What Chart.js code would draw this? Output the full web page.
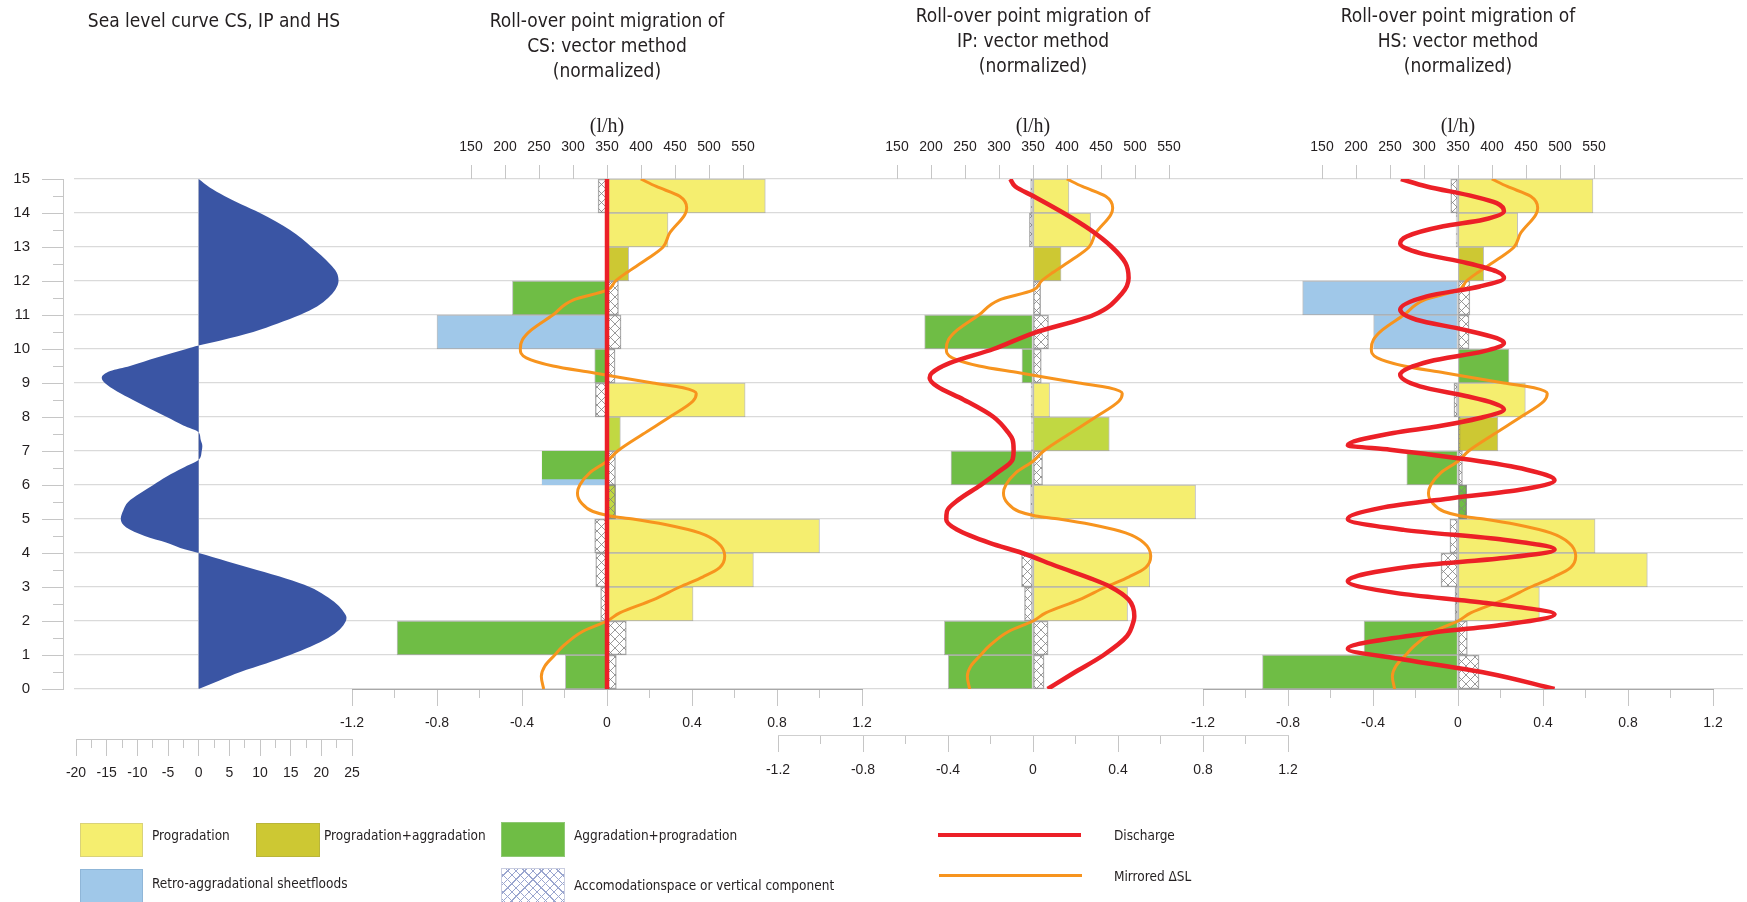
<!DOCTYPE html>
<html lang="en">
<head>
<meta charset="utf-8">
<title>Roll-over point migration: vector method</title>
<script src="https://cdn.jsdelivr.net/npm/chart.js@4.4.1/dist/chart.umd.min.js"></script>
<style>
  html, body { margin: 0; padding: 0; background: #ffffff; }
  #figure { position: relative; width: 1747px; height: 902px; overflow: hidden; background: #ffffff; }
  #figure canvas { position: absolute; top: 0; }
  .key-text { position: absolute; font-family: 'Liberation Sans Narrow', 'Arial Narrow', 'DejaVu Sans Condensed', 'Liberation Sans', sans-serif;
              font-size: 13.5px; color: #231f20; white-space: nowrap; line-height: 1; transform: translateY(-50%); }
  .key-box { position: absolute; box-sizing: border-box; }
</style>
</head>
<body>
<div id="figure">
  <canvas id="gridCanvas" width="1673" height="902" style="left:74px"></canvas>
  <canvas id="axisCanvas" width="70" height="902" style="left:0px"></canvas>
  <canvas id="seaCanvas" width="372" height="902" style="left:0px"></canvas>
  <canvas id="csCanvas" width="620" height="902" style="left:300px"></canvas>
  <canvas id="ipCanvas" width="620" height="902" style="left:726px"></canvas>
  <canvas id="hsCanvas" width="596" height="902" style="left:1151px"></canvas>

  <div class="key-box" style="left:80px;top:823px;width:63px;height:34px;background:#f5ee6f;border:1px solid #d9d27a"></div>
  <div class="key-text" style="left:152px;top:836px">Progradation</div>
  <div class="key-box" style="left:256px;top:823px;width:64px;height:34px;background:#cdc833;border:1px solid #b9b53a"></div>
  <div class="key-text" style="left:324px;top:836px">Progradation+aggradation</div>
  <div class="key-box" style="left:501px;top:822px;width:64px;height:35px;background:#6fbd45;border:1px solid #8fc874"></div>
  <div class="key-text" style="left:574px;top:836px">Aggradation+progradation</div>
  <div class="key-box" style="left:938px;top:833px;width:143px;height:4px;background:#ec2027"></div>
  <div class="key-text" style="left:1114px;top:836px">Discharge</div>

  <div class="key-box" style="left:80px;top:869px;width:63px;height:40px;background:#a0c8e9;border:1px solid #8fb6d8"></div>
  <div class="key-text" style="left:152px;top:884px">Retro-aggradational sheetfloods</div>
  <div class="key-box" style="left:501px;top:868px;width:64px;height:40px;border:1px solid #c9cde0;
       background:repeating-linear-gradient(45deg, rgba(0,0,0,0) 0 5px, #9aa6cf 5px 6px), repeating-linear-gradient(-45deg, rgba(0,0,0,0) 0 5px, #9aa6cf 5px 6px)"></div>
  <div class="key-text" style="left:574px;top:886px">Accomodationspace or vertical component</div>
  <div class="key-box" style="left:939px;top:874px;width:143px;height:3px;background:#f7941e"></div>
  <div class="key-text" style="left:1114px;top:877px">Mirrored ΔSL</div>
</div>

<script>
// ---------- data ----------
// Stratigraphic intervals along the vertical axis, bottom to top
const rows = ['0–1', '1–2', '2–3', '3–4', '4–5', '5–6', '6–7', '7–8', '8–9', '9–10', '10–11', '11–12', '12–13', '13–14', '14–15'];

// Tick values
const levelTicks = [0, 1, 2, 3, 4, 5, 6, 7, 8, 9, 10, 11, 12, 13, 14, 15];
const levelMinorTicks = [0, 0.5, 1, 1.5, 2, 2.5, 3, 3.5, 4, 4.5, 5, 5.5, 6, 6.5, 7, 7.5, 8, 8.5, 9, 9.5, 10, 10.5, 11, 11.5, 12, 12.5, 13, 13.5, 14, 14.5, 15];
const seaTicks = [-20, -15, -10, -5, 0, 5, 10, 15, 20, 25];
const seaMinorTicks = [-20, -17.5, -15, -12.5, -10, -7.5, -5, -2.5, 0, 2.5, 5, 7.5, 10, 12.5, 15, 17.5, 20, 22.5, 25];
const normTicks = [-1.2, -0.8, -0.4, 0, 0.4, 0.8, 1.2];
const normMinorTicks = [-1.2, -1.0, -0.8, -0.6, -0.4, -0.2, 0, 0.2, 0.4, 0.6, 0.8, 1.0, 1.2];
const dischargeTicks = [150, 200, 250, 300, 350, 400, 450, 500, 550];
// Discharge (l/h) spanned by a panel's width: 350 l/h sits on the normalized zero
const dischargeSpan = [-25, 725];

// Sea level curve shared by CS, IP and HS
const seaTime = [0, 0.25, 0.5, 0.75, 1, 1.25, 1.5, 1.75, 2, 2.1, 2.25, 2.5, 2.75, 3, 3.25, 3.5, 3.75, 4, 4.15, 4.3, 4.5, 4.75, 5, 5.25, 5.5, 5.75, 6, 6.25, 6.5, 6.74, 7, 7.15, 7.35, 7.55, 7.75, 8, 8.25, 8.5, 8.75, 9, 9.15, 9.35, 9.5, 9.75, 10, 10.1, 10.25, 10.5, 10.75, 11, 11.25, 11.5, 11.75, 12, 12.25, 12.5, 12.75, 13, 13.25, 13.5, 13.75, 14, 14.25, 14.5, 14.75, 15];
const seaLevel = [0, 3.4, 6.8, 11.0, 14.9, 18.3, 21.1, 23.0, 24.0, 24.1, 23.7, 22.5, 20.6, 18.1, 14.2, 9.5, 4.7, 0, -3.0, -5.2, -8.8, -11.8, -12.7, -12.3, -11.5, -9.6, -7.4, -5.2, -2.6, 0, 0.5, 0.6, 0.3, 0, -2.5, -5.2, -8.0, -10.7, -13.3, -15.3, -15.8, -14.4, -11.2, -6.8, -2.0, 0, 3.6, 8.9, 12.9, 16.5, 19.3, 21.1, 22.3, 22.8, 22.5, 21.4, 20.0, 18.4, 16.8, 14.9, 12.6, 10.0, 7.0, 4.2, 1.8, 0];

// Mirrored ΔSL (normalized), identical in the three panels
const mirroredTime = [0, 0.37, 0.67, 1, 1.26, 1.7, 2, 2.24, 2.62, 3, 3.3, 3.57, 3.91, 4.3, 4.59, 4.83, 5, 5.09, 5.22, 5.47, 5.76, 6, 6.36, 6.7, 7, 7.5, 8, 8.47, 8.69, 8.86, 9, 9.2, 9.3, 9.5, 9.74, 10, 10.27, 10.56, 11, 11.44, 11.73, 12, 12.24, 12.63, 13, 13.41, 13.95, 14.15, 14.49, 14.78, 15];
const mirroredSL = [-0.298, -0.309, -0.293, -0.246, -0.207, -0.113, 0, 0.06, 0.216, 0.342, 0.452, 0.53, 0.554, 0.522, 0.436, 0.28, 0.122, 0.013, -0.066, -0.12, -0.139, -0.128, -0.081, 0, 0.05, 0.17, 0.295, 0.405, 0.42, 0.358, 0.216, 0.028, -0.066, -0.254, -0.38, -0.408, -0.398, -0.356, -0.255, -0.16, 0, 0.04, 0.091, 0.185, 0.264, 0.295, 0.366, 0.375, 0.342, 0.232, 0.159];

// CS: vector components per interval (normalized)
const csProgradation   = [null, null, 0.405, 0.689, 1.0, null, null, null, 0.65, null, null, null, null, 0.287, 0.745];
const csProgAggr       = [null, null, null, null, null, null, null, null, null, null, null, null, 0.102, null, null];
const csProgAggrLight  = [null, null, null, null, null, 0.041, null, 0.063, null, null, null, null, null, null, null];
const csAggrProg       = [-0.196, -0.988, null, null, null, null, -0.306, null, null, -0.058, null, -0.445, null, null, null];
const csRetro          = [null, null, null, null, null, null, -0.306, null, null, null, -0.80, null, null, null, null];
const csAccommodation  = [0.044, 0.091, -0.03, -0.053, -0.058, 0.04, 0.04, null, -0.055, 0.038, 0.066, 0.054, null, null, -0.042];
const csDischargeTime  = [0, 15];
const csDischarge      = [350, 350];

// IP
const ipProgradation   = [null, null, 0.445, 0.549, null, 0.765, null, null, 0.078, null, null, null, null, 0.271, 0.169];
const ipProgAggr       = [null, null, null, null, null, null, null, null, null, null, null, null, 0.132, null, null];
const ipProgAggrLight  = [null, null, null, null, null, null, null, 0.359, null, null, null, null, null, null, null];
const ipAggrProg       = [-0.399, -0.417, null, null, null, null, -0.386, null, null, -0.052, -0.51, null, null, null, null];
const ipRetro          = [null, null, null, null, null, null, null, null, null, null, null, null, null, null, null];
const ipAccommodation  = [0.052, 0.071, -0.04, -0.054, null, -0.011, 0.045, -0.007, -0.009, 0.039, 0.073, 0.036, null, -0.017, -0.011];
const ipDischargeTime  = [0, 0.47, 1, 1.55, 2, 2.14, 2.63, 3.01, 3.22, 3.61, 4, 4.29, 4.69, 4.98, 5.23, 5.57, 5.99, 6.35, 6.75, 7.04, 7.33, 7.53, 8, 8.51, 8.9, 9.15, 9.29, 9.59, 10, 10.47, 11, 11.64, 12.09, 12.53, 13, 13.51, 14, 14.49, 14.78, 15];
const ipDischarge      = [371.5, 409.7, 454, 488, 498, 499, 490.6, 463.7, 439, 385, 334, 287, 238, 222.5, 223.5, 240.6, 272.5, 297, 320, 321.5, 320, 314, 292, 248, 209, 198, 201, 228, 292, 351, 439, 481, 490.6, 486, 466, 434, 395, 351, 324, 316.6];

// HS
const hsProgradation   = [null, null, 0.383, 0.891, 0.645, null, null, null, 0.317, null, null, null, null, 0.281, 0.635];
const hsProgAggr       = [null, null, null, null, null, null, null, 0.188, null, null, null, null, 0.121, null, null];
const hsProgAggrLight  = [null, null, null, null, null, null, null, null, null, null, null, null, null, null, null];
const hsAggrProg       = [-0.92, -0.442, null, null, null, 0.041, -0.241, null, null, 0.24, null, null, null, null, null];
const hsRetro          = [null, null, null, null, null, null, null, null, null, null, -0.397, -0.731, null, null, null];
const hsAccommodation  = [0.099, 0.044, -0.014, -0.08, -0.038, 0.041, 0.021, 0.01, -0.019, null, 0.052, 0.056, null, -0.009, -0.034];
const hsDischargeTime  = [0, 0.47, 0.87, 1.18, 1.65, 1.89, 2.19, 2.53, 2.82, 3.17, 3.61, 3.85, 4.1, 4.39, 4.68, 5, 5.32, 5.62, 5.86, 6.14, 6.45, 6.74, 7.04, 7.17, 7.53, 7.72, 7.97, 8.23, 8.41, 8.61, 8.9, 9.24, 9.64, 9.93, 10.18, 10.32, 10.57, 10.86, 11.16, 11.55, 11.84, 12.09, 12.28, 12.53, 12.82, 13.1, 13.31, 13.61, 13.8, 14.05, 14.29, 14.49, 14.78, 15];
const hsDischarge      = [492, 392, 270, 188, 310, 417, 492, 392, 260, 188, 284, 417, 492, 417, 270, 188, 235, 343, 441, 492, 451, 368, 250, 188, 255, 319, 382, 417.6, 402, 363, 294, 265, 309, 387, 417.6, 407, 358, 289, 265, 304, 382, 417.6, 407, 363, 294, 265, 274.5, 328.5, 387, 417.6, 407, 372.6, 304, 266];

// ---------- styling ----------
const NARROW = "'Liberation Sans Narrow', 'Arial Narrow', 'DejaVu Sans Condensed', 'Liberation Sans', sans-serif";
const SANS = "'Liberation Sans', Arial, Helvetica, sans-serif";
const SERIF = "'Liberation Serif', 'Times New Roman', serif";
const COLORS = {
  progradation: '#f5ee6f', progAggr: '#cdc833', progAggrLight: '#c1d842', aggrProg: '#6fbd45',
  retro: '#a0c8e9', discharge: '#ec2027', mirrored: '#f7941e', sea: '#3a55a4',
  grid: '#dadada', tick: '#c6c6c6', text: '#231f20', edge: 'rgba(100,100,100,0.4)'
};

Chart.defaults.font.family = SANS;
Chart.defaults.color = COLORS.text;
Chart.defaults.animation = false;
Chart.defaults.responsive = false;
Chart.defaults.maintainAspectRatio = false;
Chart.defaults.devicePixelRatio = 1;
Chart.defaults.events = [];
Chart.defaults.plugins.legend.display = false;
Chart.defaults.plugins.tooltip.enabled = false;

const setTicks = values => scale => { scale.ticks = values.map(value => ({value})); };
const setHeight = h => scale => { scale.height = h; };
const setWidth = w => scale => { scale.width = w; };
const asPoints = (time, value) => time.map((t, i) => ({x: value[i], y: t}));

// Cross-hatch fill for the accommodation (vertical) component
function crossHatch() {
  const s = 9;
  const tile = document.createElement('canvas');
  tile.width = s; tile.height = s;
  const g = tile.getContext('2d');
  g.strokeStyle = '#808080';
  g.lineWidth = 0.8;
  g.beginPath();
  g.moveTo(0, 0); g.lineTo(s, s);
  g.moveTo(s, 0); g.lineTo(0, s);
  g.stroke();
  return g.createPattern(tile, 'repeat');
}
const hatch = crossHatch();

// Title block of fixed height: first line centred at top + 12.5
const TITLE_LINE = 25;
const panelTitle = (lines, top, blockHeight) => ({
  display: true, text: lines, fullSize: false, color: COLORS.text,
  font: {family: NARROW, size: 19, weight: 'normal', lineHeight: TITLE_LINE / 19},
  padding: {top: top, bottom: blockHeight - TITLE_LINE * lines.length - top}
});

// Two stacked bottom axes give short minor and long major tick marks
function bottomAxes(min, max, major, minor, labelPad, borderColor, formatter) {
  return {
    xm: {
      type: 'linear', axis: 'x', position: 'bottom', weight: 1, bounds: 'data', offset: false, min, max,
      afterBuildTicks: setTicks(minor), afterFit: setHeight(9),
      ticks: {display: false},
      grid: {drawOnChartArea: false, tickLength: 9, color: COLORS.tick},
      border: {display: true, color: borderColor, width: 1}
    },
    x: {
      type: 'linear', axis: 'x', position: 'bottom', weight: 2, bounds: 'data', offset: false, min, max,
      afterBuildTicks: setTicks(major), afterFit: setHeight(40),
      ticks: {font: {size: 14}, padding: labelPad, color: COLORS.text, autoSkip: false, maxRotation: 0, callback: formatter},
      grid: {
        drawOnChartArea: true, tickLength: 8, tickColor: COLORS.tick,
        color: ctx => (ctx.tick && ctx.tick.value === 0 ? COLORS.grid : 'rgba(0,0,0,0)')
      },
      border: {display: false}
    }
  };
}

// ---------- horizontal grid lines ----------
new Chart(document.getElementById('gridCanvas'), {
  type: 'line',
  data: {datasets: []},
  options: {
    layout: {padding: {top: 179, bottom: 213, left: 0, right: 4}},
    scales: {
      x: {type: 'linear', display: false, min: 0, max: 1},
      y: {
        type: 'linear', bounds: 'data', min: 0, max: 15,
        afterBuildTicks: setTicks(levelTicks), afterFit: setWidth(0),
        ticks: {display: false},
        grid: {color: COLORS.grid, lineWidth: 1.2, drawTicks: false},
        border: {display: false}
      }
    }
  }
});

// ---------- shared vertical axis ----------
new Chart(document.getElementById('axisCanvas'), {
  type: 'line',
  data: {datasets: []},
  options: {
    layout: {padding: {top: 179, bottom: 213, left: 0, right: 0}},
    scales: {
      x: {type: 'linear', display: false, min: 0, max: 1},
      yMinor: {
        type: 'linear', axis: 'y', position: 'left', weight: 0, bounds: 'data', min: 0, max: 15,
        afterBuildTicks: setTicks(levelMinorTicks), afterFit: setWidth(10),
        ticks: {display: false},
        grid: {drawOnChartArea: false, tickLength: 10, color: COLORS.tick},
        border: {display: true, color: COLORS.tick}
      },
      y: {
        type: 'linear', position: 'left', weight: 1, bounds: 'data', min: 0, max: 15,
        afterBuildTicks: setTicks(levelTicks), afterFit: setWidth(53),
        ticks: {font: {size: 15}, padding: 12, color: COLORS.text},
        grid: {drawOnChartArea: false, tickLength: 11, color: COLORS.tick},
        border: {display: false}
      }
    }
  }
});

// ---------- sea level curve ----------
new Chart(document.getElementById('seaCanvas'), {
  type: 'line',
  data: {
    datasets: [{
      label: 'Sea level',
      data: asPoints(seaTime, seaLevel),
      borderColor: COLORS.sea, borderWidth: 0, backgroundColor: COLORS.sea,
      fill: {value: 0}, pointRadius: 0, cubicInterpolationMode: 'monotone'
    }]
  },
  options: {
    indexAxis: 'y',
    layout: {padding: {top: 0, bottom: 114, left: 76, right: 20}},
    plugins: {title: panelTitle(['Sea level curve CS, IP and HS'], 9.5, 179)},
    scales: Object.assign({
      y: {type: 'linear', display: false, bounds: 'data', offset: false, min: 0, max: 15},
      xgap: {
        type: 'linear', axis: 'x', position: 'bottom', weight: 0, min: -20, max: 25,
        afterFit: setHeight(50), ticks: {display: false},
        grid: {display: false, drawTicks: false}, border: {display: false}
      }
    }, bottomAxes(-20, 25, seaTicks, seaMinorTicks, 8.5, COLORS.tick, v => String(v)))
  }
});

// ---------- roll-over point migration panels ----------
function rollOverPanel(cfg) {
  const bars = (label, values, color, extra) => Object.assign({
    type: 'bar', label, data: values, backgroundColor: color,
    borderColor: COLORS.edge, borderWidth: 1, borderSkipped: false,
    grouped: false, barPercentage: 1, categoryPercentage: 1,
    xAxisID: 'x', yAxisID: 'y', order: 3
  }, extra || {});

  const datasets = [
    {
      type: 'line', label: 'Discharge', data: asPoints(cfg.dischargeTime, cfg.discharge),
      xAxisID: 'xq', yAxisID: 'yl', borderColor: COLORS.discharge, borderWidth: 4.5,
      pointRadius: 0, fill: false, cubicInterpolationMode: 'monotone', order: 0
    },
    {
      type: 'line', label: 'Mirrored ΔSL', data: asPoints(mirroredTime, mirroredSL),
      xAxisID: 'x', yAxisID: 'yl', borderColor: COLORS.mirrored, borderWidth: 3,
      pointRadius: 0, fill: false, cubicInterpolationMode: 'monotone', order: 1
    },
    bars('Accomodationspace or vertical component', cfg.accommodation, hatch,
         {order: 2, borderColor: 'rgba(110,110,110,0.55)', borderWidth: 0.8}),
    bars('Progradation', cfg.progradation, COLORS.progradation),
    bars('Progradation+aggradation', cfg.progAggr, COLORS.progAggr),
    bars('Progradation+aggradation (light)', cfg.progAggrLight, COLORS.progAggrLight),
    // where a retro-aggradational part shares the interval it shows as a band at the base
    bars('Aggradation+progradation', cfg.aggrProg, COLORS.aggrProg, {
      order: 4,
      borderWidth: ctx => (cfg.retro[ctx.dataIndex] != null ? {top: 0, right: 0, bottom: 6, left: 0} : 1),
      borderColor: ctx => (cfg.retro[ctx.dataIndex] != null ? COLORS.retro : COLORS.edge)
    }),
    bars('Retro-aggradational sheetfloods', cfg.retro, COLORS.retro, {order: 5})
  ];

  const scales = Object.assign({
    y: {type: 'category', labels: rows, reverse: true, offset: true, display: false},
    yl: {type: 'linear', axis: 'y', bounds: 'data', offset: false, grid: {offset: false}, min: 0, max: 15, display: false},
    xq: {
      type: 'linear', axis: 'x', position: 'top', bounds: 'data', offset: false, min: dischargeSpan[0], max: dischargeSpan[1],
      afterBuildTicks: setTicks(dischargeTicks), afterFit: setHeight(64),
      ticks: {font: {size: 14}, padding: 9, color: COLORS.text, autoSkip: false, maxRotation: 0},
      grid: {drawOnChartArea: false, tickLength: 14, color: COLORS.tick},
      border: {display: false},
      title: {display: true, text: '(l/h)', color: COLORS.text, font: {family: SERIF, size: 20}, padding: {top: 0, bottom: 0}}
    }
  }, bottomAxes(-1.2, 1.2, normTicks, normMinorTicks, cfg.labelPad, cfg.axisColor, v => String(v)));

  if (cfg.axisDrop) {
    scales.xgap = {
      type: 'linear', axis: 'x', position: 'bottom', weight: 0, min: -1.2, max: 1.2,
      afterFit: setHeight(cfg.axisDrop), ticks: {display: false},
      grid: {display: false, drawTicks: false}, border: {display: false}
    };
  }

  return new Chart(document.getElementById(cfg.canvas), {
    type: 'bar',
    data: {labels: rows, datasets},
    options: {
      indexAxis: 'y',
      layout: {padding: {top: 0, bottom: 164 - cfg.axisDrop, left: 52, right: cfg.padRight}},
      plugins: {title: panelTitle(cfg.title, cfg.titleTop, 115)},
      scales
    }
  });
}

rollOverPanel({
  canvas: 'csCanvas', title: ['Roll-over point migration of', 'CS: vector method', '(normalized)'], titleTop: 9.5,
  progradation: csProgradation, progAggr: csProgAggr, progAggrLight: csProgAggrLight, aggrProg: csAggrProg,
  retro: csRetro, accommodation: csAccommodation, dischargeTime: csDischargeTime, discharge: csDischarge,
  axisDrop: 0, axisColor: '#a8a8a8', labelPad: 8.5, padRight: 58
});

rollOverPanel({
  canvas: 'ipCanvas', title: ['Roll-over point migration of', 'IP: vector method', '(normalized)'], titleTop: 4.5,
  progradation: ipProgradation, progAggr: ipProgAggr, progAggrLight: ipProgAggrLight, aggrProg: ipAggrProg,
  retro: ipRetro, accommodation: ipAccommodation, dischargeTime: ipDischargeTime, discharge: ipDischarge,
  axisDrop: 46, axisColor: '#cfcfcf', labelPad: 9.5, padRight: 58
});

rollOverPanel({
  canvas: 'hsCanvas', title: ['Roll-over point migration of', 'HS: vector method', '(normalized)'], titleTop: 4.5,
  progradation: hsProgradation, progAggr: hsProgAggr, progAggrLight: hsProgAggrLight, aggrProg: hsAggrProg,
  retro: hsRetro, accommodation: hsAccommodation, dischargeTime: hsDischargeTime, discharge: hsDischarge,
  axisDrop: 0, axisColor: '#a8a8a8', labelPad: 8.5, padRight: 34
});
</script>
</body>
</html>
